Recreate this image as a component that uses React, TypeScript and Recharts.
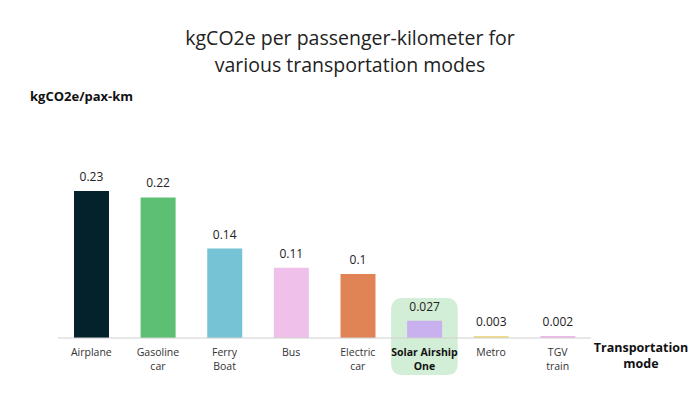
import { Bar, BarChart, Cell, ReferenceArea, XAxis, YAxis } from "recharts";

const modes = [
  "Airplane",
  "Gasoline car",
  "Ferry Boat",
  "Bus",
  "Electric car",
  "Solar Airship One",
  "Metro",
  "TGV train",
];
const tickLines = [
  ["Airplane"],
  ["Gasoline", "car"],
  ["Ferry", "Boat"],
  ["Bus"],
  ["Electric", "car"],
  ["Solar Airship", "One"],
  ["Metro"],
  ["TGV", "train"],
];
const emissions = [0.23, 0.22, 0.14, 0.11, 0.1, 0.027, 0.003, 0.002];
const barColors = [
  "#03222c",
  "#5cbf73",
  "#76c3d6",
  "#efc0ea",
  "#e08455",
  "#c9b1f0",
  "#eedc8a",
  "#f0b8e6",
];
const highlighted = "Solar Airship One";

const data = modes.map((mode, i) => ({ mode, value: emissions[i] }));

const FONT = "'Open Sans', sans-serif";

function ModeTick({ x, y, payload, index }: any) {
  const lines = tickLines[index] ?? [payload.value];
  const bold = payload.value === highlighted;
  return (
    <text
      x={x}
      y={y + 10}
      textAnchor="middle"
      fontSize={10.5}
      fontFamily={FONT}
      fontWeight={bold ? 700 : 400}
      fill={bold ? "#111" : "#333"}
    >
      {lines.map((line: string, i: number) => (
        <tspan key={line} x={x} dy={i === 0 ? 0 : 14}>
          {line}
        </tspan>
      ))}
    </text>
  );
}

const titleLine = {
  position: "absolute" as const,
  left: 0,
  width: 700,
  textAlign: "center" as const,
  fontSize: 19.5,
  lineHeight: "24px",
  color: "#222",
};

export default function App() {
  return (
    <div
      style={{
        position: "absolute",
        top: 0,
        left: 0,
        width: 700,
        height: 420,
        background: "#fff",
        fontFamily: FONT,
      }}
    >
      <div style={{ ...titleLine, top: 26 }}>kgCO2e per passenger-kilometer for</div>
      <div style={{ ...titleLine, top: 53 }}>various transportation modes</div>
      <div
        style={{
          position: "absolute",
          top: 87,
          left: 30,
          fontSize: 13,
          fontWeight: 700,
          color: "#111",
        }}
      >
        kgCO2e/pax-km
      </div>
      <div
        style={{
          position: "absolute",
          top: 340,
          left: 592,
          width: 98,
          textAlign: "center",
          fontSize: 12.5,
          lineHeight: "16px",
          fontWeight: 700,
          color: "#111",
        }}
      >
        <div>Transportation</div>
        <div>mode</div>
      </div>
      <BarChart
        width={700}
        height={420}
        data={data}
        margin={{ top: 108, right: 109, bottom: 42, left: 58 }}
        barCategoryGap="24%"
      >
        <ReferenceArea
          x1={highlighted}
          x2={highlighted}
          y1={-0.058}
          y2={0.0626}
          ifOverflow="visible"
          fill="#d3eed6"
          fillOpacity={1}
          stroke="none"
          radius={10}
        />
        <XAxis
          dataKey="mode"
          interval={0}
          height={40}
          tick={<ModeTick />}
          tickLine={false}
          axisLine={{ stroke: "#d0d0d0" }}
        />
        <YAxis
          domain={[0, 0.36]}
          width={0}
          tick={false}
          tickLine={false}
          axisLine={{ stroke: "#d0d0d0" }}
        />
        <Bar
          dataKey="value"
          isAnimationActive={false}
          minPointSize={2}
          label={{ position: "top", offset: 10, fill: "#222", fontSize: 12, fontFamily: FONT }}
        >
          {data.map((d, i) => (
            <Cell key={d.mode} fill={barColors[i]} />
          ))}
        </Bar>
      </BarChart>
    </div>
  );
}
